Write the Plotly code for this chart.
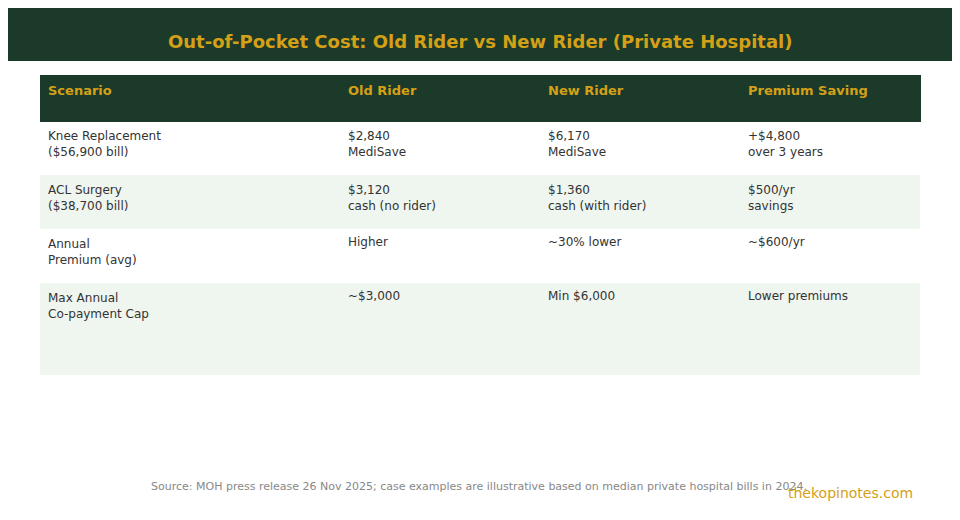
import plotly.graph_objects as go

headers = ["Scenario", "Old Rider", "New Rider", "Premium Saving"]
scenario = ["Knee Replacement<br>($56,900 bill)", "ACL Surgery<br>($38,700 bill)", "Annual<br>Premium (avg)", "Max Annual<br>Co-payment Cap<br> <br> <br> "]
old_rider = ["$2,840<br>MediSave", "$3,120<br>cash (no rider)", "Higher", "~$3,000"]
new_rider = ["$6,170<br>MediSave", "$1,360<br>cash (with rider)", "~30% lower", "Min $6,000"]
saving = ["+$4,800<br>over 3 years", "$500/yr<br>savings", "~$600/yr", "Lower premiums"]

GREEN = "#1b3a2a"
GOLD = "#d4a017"
fills = ["#ffffff", "#eff5ef", "#ffffff", "#eff5ef"]
W, H, OFF = 960, 520, 8

fig = go.Figure(go.Table(
    columnwidth=[300, 200, 200, 180],
    header=dict(values=["<b>%s</b>" % h for h in headers], fill_color=GREEN,
                font=dict(color=GOLD, size=13, family="DejaVu Sans"),
                align="left", height=46, line_color=GREEN),
    cells=dict(values=[scenario, old_rider, new_rider, saving],
               fill_color=[fills] * 4, line_color="rgba(0,0,0,0)",
               font=dict(color="#333333", size=12, family="DejaVu Sans"),
               align="left", height=54),
    domain=dict(x=[(40 - OFF)/W, (920 - OFF)/W], y=[0, 1 - (75 - OFF)/H]),
))

fig.update_layout(
    width=W, height=H, margin=dict(l=0, r=0, t=0, b=0),
    paper_bgcolor="white", plot_bgcolor="white",
    shapes=[dict(type="rect", xref="paper", yref="paper", x0=0, x1=1, y0=1 - (61 - OFF)/H, y1=1,
                 fillcolor=GREEN, line_width=0, layer="below")],
    annotations=[
        dict(text="<b>Out-of-Pocket Cost: Old Rider vs New Rider (Private Hospital)</b>",
             x=(480 - OFF)/W, y=1 - (29 - OFF)/H, xref="paper", yref="paper", showarrow=False,
             font=dict(color=GOLD, size=18, family="DejaVu Sans")),
        dict(text="Source: MOH press release 26 Nov 2025; case examples are illustrative based on median private hospital bills in 2024.",
             x=(479 - OFF)/W, y=1 - (495 - OFF)/H, xref="paper", yref="paper", showarrow=False,
             font=dict(color="#888888", size=11, family="DejaVu Sans")),
        dict(text="thekopinotes.com", x=(915 - OFF)/W, y=1 - (503 - OFF)/H, xref="paper", yref="paper",
             xanchor="right", showarrow=False, font=dict(color=GOLD, size=14, family="DejaVu Sans")),
    ],
)
fig.write_html("out.html")
